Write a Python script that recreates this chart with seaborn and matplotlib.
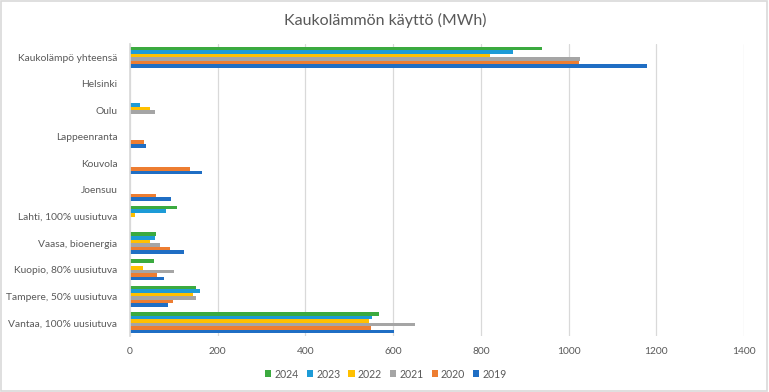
import matplotlib
matplotlib.use("Agg")
import matplotlib.pyplot as plt
import seaborn as sns
import pandas as pd
from matplotlib.patches import Rectangle

categories = ["Kaukolämpö yhteensä", "Helsinki", "Oulu", "Lappeenranta", "Kouvola",
              "Joensuu", "Lahti, 100% uusiutuva", "Vaasa, bioenergia",
              "Kuopio, 80% uusiutuva", "Tampere, 50% uusiutuva", "Vantaa, 100% uusiutuva"]
years = ["2024", "2023", "2022", "2021", "2020", "2019"]

v2024 = [939, 0, 0, 0, 0, 0, 108, 60, 55, 151, 568]
v2023 = [873, 0, 23, 0, 0, 0, 83, 57, 0, 159, 551]
v2022 = [821, 0, 45, 0, 0, 0, 12, 46, 30, 143, 546]
v2021 = [1026, 0, 58, 0, 0, 0, 0, 69, 101, 151, 650]
v2020 = [1024, 0, 0, 33, 137, 59, 0, 92, 61, 97, 550]
v2019 = [1179, 0, 0, 36, 164, 93, 0, 124, 78, 87, 603]

series = [v2024, v2023, v2022, v2021, v2020, v2019]
colors = ["#3BAA3F", "#1D9BD7", "#FFC000", "#A5A5A5", "#ED7D31", "#1F6EC4"]

rows = []
for y, vals in zip(years, series):
    for c, v in zip(categories, vals):
        rows.append({"Kohde": c, "Vuosi": y, "MWh": v})
df = pd.DataFrame(rows)

sns.set_theme(style="white")
plt.rcParams["font.family"] = ["Lato", "DejaVu Sans"]

fig = plt.figure(figsize=(7.69, 3.92), dpi=100)
ax = fig.add_axes([130/769, 1-336/392, (744-130)/769, (336-44)/392])

sns.barplot(data=df, y="Kohde", x="MWh", hue="Vuosi", order=categories,
            hue_order=years, palette=colors, orient="h", width=0.8,
            saturation=1, linewidth=0, edgecolor="none", ax=ax, legend=True)

ax.set_xlim(0, 1400)
ax.set_xticks(range(0, 1401, 200))
ax.set_xlabel("")
ax.set_ylabel("")
ax.grid(axis="x", color="#D9D9D9", linewidth=0.9)
ax.set_axisbelow(True)
for s in ["top", "right", "bottom"]:
    ax.spines[s].set_visible(False)
ax.spines["left"].set_color("#D9D9D9")
ax.tick_params(axis="both", length=0, labelsize=7.4, colors="#595959")
ax.tick_params(axis="y", pad=9)
ax.tick_params(axis="x", pad=8)

handles, labels = ax.get_legend_handles_labels()
ax.get_legend().remove()
fig.legend(handles, labels, loc="center", bbox_to_anchor=(386/769, 1-374/392),
           ncol=6, frameon=False, fontsize=7.6, handlelength=0.6, handleheight=0.6,
           handletextpad=0.3, columnspacing=0.75, labelcolor="#595959")

fig.text(385/769, 1-20/392, "Kaukolämmön käyttö (MWh)", ha="center", va="center",
         fontsize=11.5, color="#595959")

fig.patches.append(Rectangle((0.001, 0.002), 0.997, 0.995, transform=fig.transFigure,
                             fill=False, edgecolor="#D9D9D9", linewidth=1.2))

fig.savefig("out.png", dpi=100)
